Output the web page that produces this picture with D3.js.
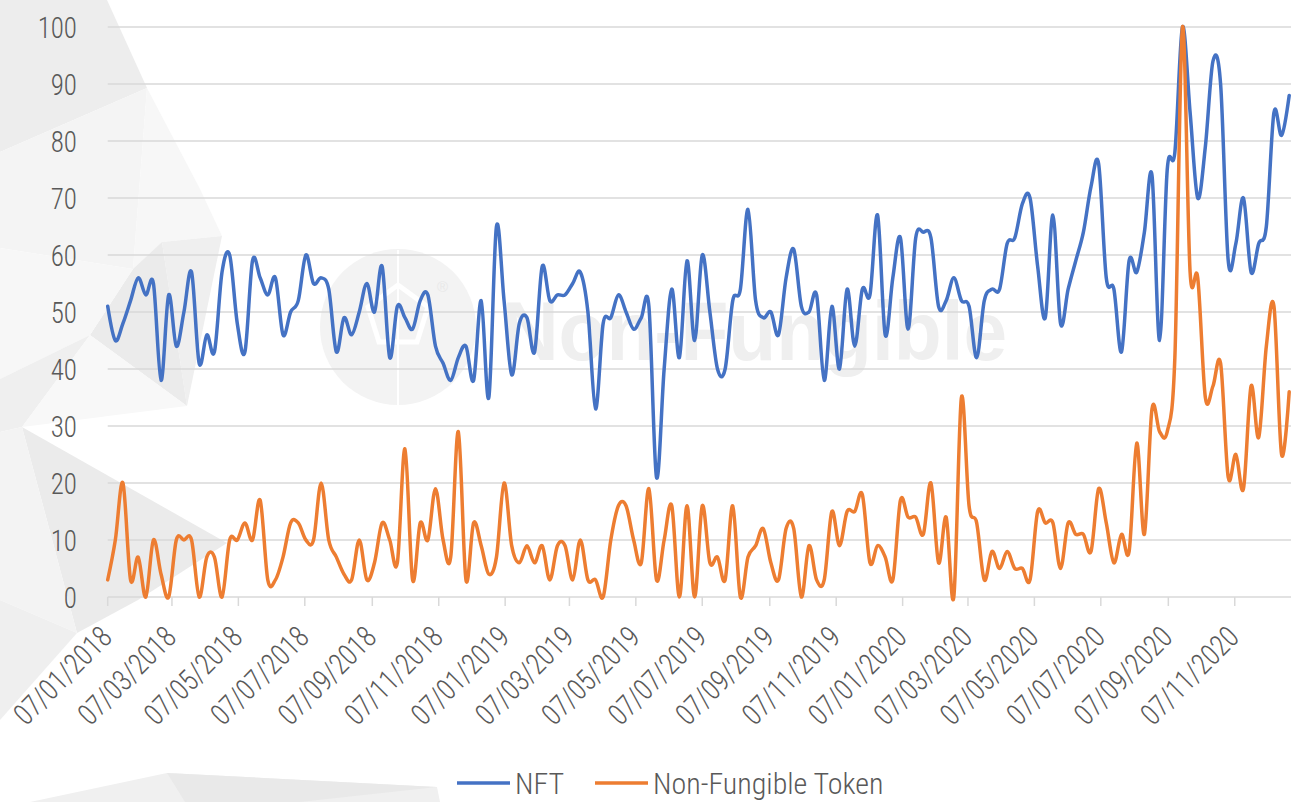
<!DOCTYPE html>
<meta charset="utf-8">
<style>

body {
  margin: 0;
  background: #fff;
}

text {
  font-family: "Roboto Condensed", "Liberation Sans Narrow", "Arial Narrow", sans-serif;
  font-weight: 300;
  fill: #595959;
}

.grid line {
  stroke: #d9d9d9;
  stroke-width: 1.5px;
}

.series path {
  fill: none;
  stroke-width: 3.5px;
  stroke-linejoin: round;
  stroke-linecap: round;
}

</style>
<svg width="1291" height="802"></svg>
<script src="https://d3js.org/d3.v7.min.js"></script>
<script>

// weekly Google Trends style data, weeks start on Sunday 07/01/2018
var firstWeek = "07/01/2018",
    lastWeek = "27/12/2020";

var nft = [
  51, 45, 48, 52, 56, 53, 55, 38, 53, 44,
  50, 57, 41, 46, 43, 57, 60, 48, 43, 59,
  56, 53, 56, 46, 50, 52, 60, 55, 56, 54,
  43, 49, 46, 50, 55, 50, 58, 42, 51, 49,
  47, 52, 53, 44, 41, 38, 42, 44, 38, 52,
  35, 65, 52, 39, 48, 49, 43, 58, 52, 53,
  53, 55, 57, 50, 33, 48, 49, 53, 50, 47,
  49, 51, 21, 40, 54, 42, 59, 45, 60, 50,
  40, 40, 52, 54, 68, 52, 49, 50, 46, 56,
  61, 51, 50, 53, 38, 51, 40, 54, 44, 54,
  53, 67, 46, 56, 63, 47, 63, 64, 63, 51,
  52, 56, 52, 51, 42, 52, 54, 54, 62, 63,
  69, 70, 58, 49, 67, 48, 54, 59, 64, 72,
  76, 56, 54, 43, 59, 57, 64, 74, 45, 75,
  78, 100, 85, 70, 79, 94, 90, 59, 62, 70,
  57, 62, 65, 85, 81, 88
];

var nonFungibleToken = [
  3, 10, 20, 3, 7, 0, 10, 4, 0, 10,
  10, 10, 0, 7, 7, 0, 10, 10, 13, 10,
  17, 3, 3, 7, 13, 13, 10, 10, 20, 10,
  7, 4, 3, 10, 3, 6, 13, 10, 6, 26,
  3, 13, 10, 19, 10, 7, 29, 3, 13, 9,
  4, 7, 20, 9, 6, 9, 6, 9, 3, 9,
  9, 3, 10, 3, 3, 0, 10, 16, 16, 10,
  6, 19, 3, 10, 16, 0, 16, 0, 16, 6,
  7, 3, 16, 0, 7, 9, 12, 6, 3, 12,
  12, 0, 9, 3, 3, 15, 9, 15, 15, 18,
  6, 9, 7, 3, 17, 14, 14, 11, 20, 6,
  14, 0, 35, 16, 13, 3, 8, 5, 8, 5,
  5, 3, 15, 13, 13, 5, 13, 11, 11, 8,
  19, 13, 6, 11, 8, 27, 11, 33, 29, 29,
  42, 100, 57, 56, 35, 37, 41, 21, 25, 19,
  37, 28, 44, 51, 25, 36
];

var seriesNames = ["NFT", "Non-Fungible Token"];
var seriesColors = ["#4472C4", "#ED7D31"];

var yTicks = [0, 10, 20, 30, 40, 50, 60, 70, 80, 90, 100];

var xTickLabels = [
  "07/01/2018", "07/03/2018", "07/05/2018", "07/07/2018", "07/09/2018", "07/11/2018",
  "07/01/2019", "07/03/2019", "07/05/2019", "07/07/2019", "07/09/2019", "07/11/2019",
  "07/01/2020", "07/03/2020", "07/05/2020", "07/07/2020", "07/09/2020", "07/11/2020"
];

// light low-poly backdrop of the original image
var backdrop = [
  {fill: "#ededed", points: [[0,0],[107,0],[147,88],[0,152]]},
  {fill: "#f4f4f4", points: [[0,152],[147,88],[133,269],[0,248]]},
  {fill: "#f7f7f7", points: [[147,88],[200,189],[222,236],[162,242],[133,269]]},
  {fill: "#efefef", points: [[162,242],[222,236],[187,406]]},
  {fill: "#ebebeb", points: [[133,269],[162,242],[187,406],[90,335]]},
  {fill: "#f7f7f7", points: [[0,248],[133,269],[90,335],[0,379]]},
  {fill: "#efefef", points: [[0,379],[90,335],[22,427],[0,432]]},
  {fill: "#f8f8f8", points: [[90,335],[187,406],[22,427]]},
  {fill: "#ebebeb", points: [[22,427],[227,543],[138,600],[77,633]]},
  {fill: "#f3f3f3", points: [[0,432],[22,427],[77,633],[0,600]]},
  {fill: "#efefef", points: [[0,600],[77,633],[0,720]]},
  {fill: "#f0f0f0", points: [[30,802],[167,773],[437,787],[440,802]]},
  {fill: "#e9e9e9", points: [[167,773],[437,787],[300,802],[185,802]]}
];

var svg = d3.select("svg"),
    width = +svg.attr("width"),
    height = +svg.attr("height");

var parseDay = d3.utcParse("%d/%m/%Y");

var weeks = d3.utcWeek.range(parseDay(firstWeek), d3.utcDay.offset(parseDay(lastWeek), 1));

var x = d3.scaleUtc()
    .domain([weeks[0], weeks[weeks.length - 1]])
    .range([107.7, 1289.2]);

var y = d3.scaleLinear()
    .domain([0, 100])
    .range([597, 27]);

svg.append("g")
    .attr("class", "backdrop")
  .selectAll("polygon")
  .data(backdrop)
  .enter().append("polygon")
    .attr("points", function(d) { return d.points.join(" "); })
    .attr("fill", function(d) { return d.fill; });

// faint watermark
var mark = svg.append("g").attr("class", "watermark");
mark.append("circle")
    .attr("cx", 398)
    .attr("cy", 327)
    .attr("r", 78)
    .attr("fill", "#f3f3f3");
mark.append("path")
    .attr("d", "M398,285 L428,307 L417,342 L379,342 L368,307 Z")
    .attr("fill", "none")
    .attr("stroke", "#fff")
    .attr("stroke-width", 5);
mark.append("line")
    .attr("x1", 398).attr("y1", 250)
    .attr("x2", 398).attr("y2", 405)
    .attr("stroke", "#fff")
    .attr("stroke-width", 2);
mark.append("text")
    .attr("x", 437)
    .attr("y", 292)
    .style("font-family", "Liberation Sans, sans-serif")
    .style("font-size", "15px")
    .style("fill", "#e8e8e8")
    .text("®");
mark.append("text")
    .attr("x", 502)
    .attr("y", 360)
    .attr("textLength", 505)
    .attr("lengthAdjust", "spacingAndGlyphs")
    .style("font-family", "Liberation Sans, Arial, sans-serif")
    .style("font-weight", "bold")
    .style("font-size", "84px")
    .style("fill", "#efefef")
    .text("Non-Fungible");

// horizontal grid
svg.append("g")
    .attr("class", "grid")
  .selectAll("line")
  .data(yTicks)
  .enter().append("line")
    .attr("x1", x.range()[0])
    .attr("x2", width)
    .attr("y1", function(d) { return y(d); })
    .attr("y2", function(d) { return y(d); });

svg.append("g")
    .attr("class", "y-labels")
  .selectAll("text")
  .data(yTicks)
  .enter().append("text")
    .attr("transform", function(d) { return "translate(77," + y(d) + ") scale(0.9,1)"; })
    .attr("dy", "0.36em")
    .attr("text-anchor", "end")
    .style("font-size", "30px")
    .text(function(d) { return d; });

// x axis ticks and rotated date labels
var tickDates = xTickLabels.map(parseDay);

var xAxis = svg.append("g").attr("class", "grid");
xAxis.selectAll("line")
  .data(tickDates)
  .enter().append("line")
    .attr("x1", function(d) { return x(d); })
    .attr("x2", function(d) { return x(d); })
    .attr("y1", 597)
    .attr("y2", 606);

svg.append("g")
    .attr("class", "x-labels")
  .selectAll("text")
  .data(xTickLabels)
  .enter().append("text")
    .attr("transform", function(d) {
      return "translate(" + (x(parseDay(d)) + 6) + ",639) rotate(-45) scale(0.9,1)";
    })
    .attr("text-anchor", "end")
    .style("font-size", "30px")
    .text(function(d) { return d; });

var line = d3.line()
    .x(function(d, i) { return x(weeks[i]); })
    .y(function(d) { return y(d); })
    .curve(d3.curveCardinal.tension(0));

svg.append("g")
    .attr("class", "series")
  .selectAll("path")
  .data([nft, nonFungibleToken])
  .enter().append("path")
    .attr("stroke", function(d, i) { return seriesColors[i]; })
    .attr("d", line);

// legend
var legendX = [457, 595];
var legend = svg.append("g")
    .attr("class", "legend")
  .selectAll("g")
  .data(seriesNames)
  .enter().append("g")
    .attr("transform", function(d, i) { return "translate(" + legendX[i] + ",783)"; });

legend.append("line")
    .attr("x1", 0)
    .attr("x2", 53)
    .attr("stroke", function(d, i) { return seriesColors[i]; })
    .attr("stroke-width", 3.5);

legend.append("text")
    .attr("x", 58)
    .attr("y", 11)
    .style("font-size", "30px")
    .text(function(d) { return d; });

</script>
